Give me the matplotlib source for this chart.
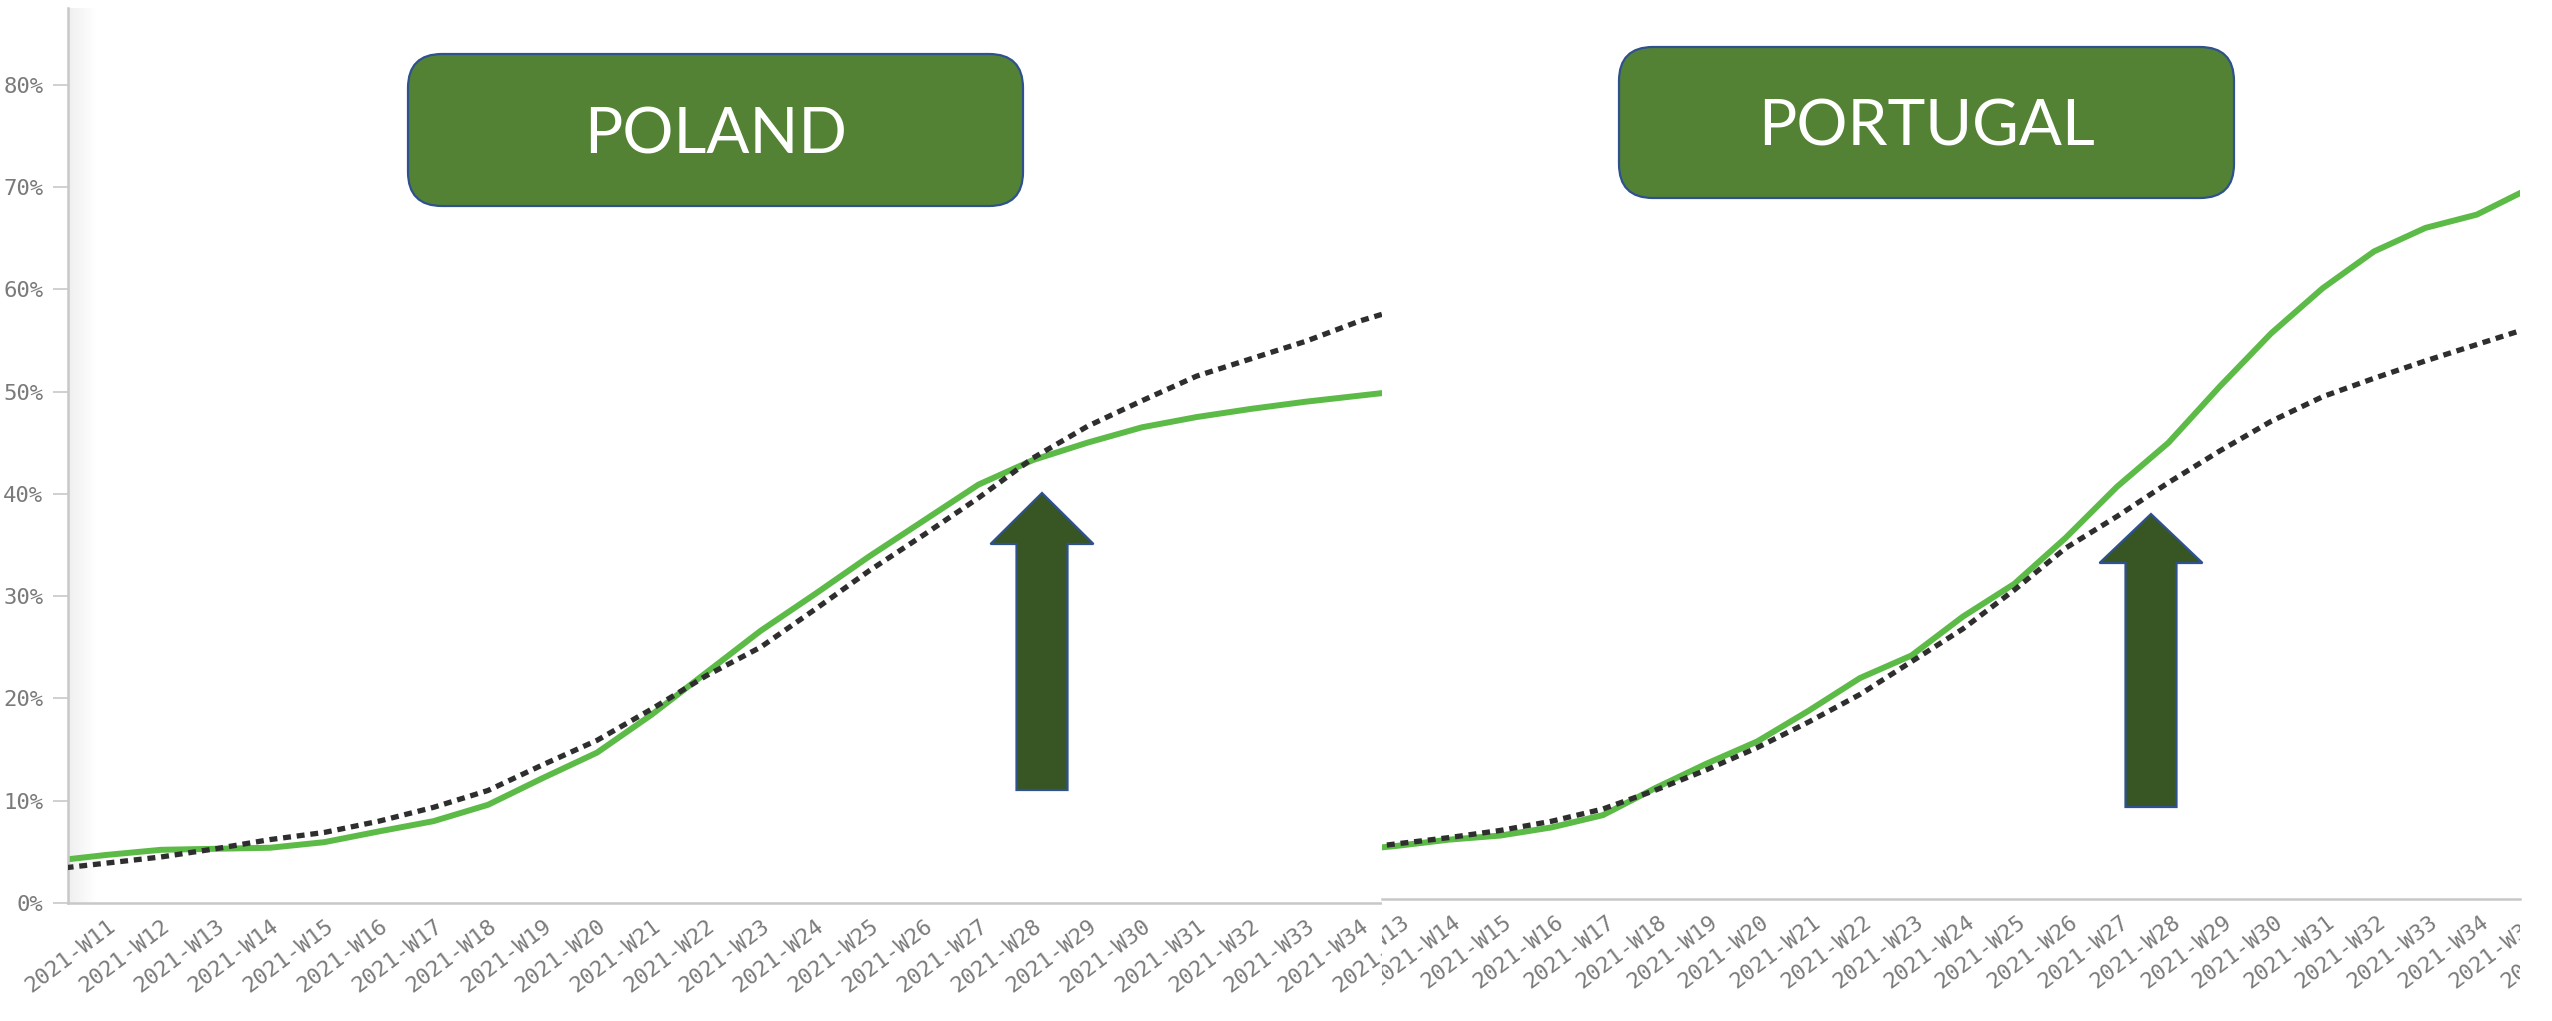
import numpy as np
import matplotlib.pyplot as plt
from matplotlib.colors import LinearSegmentedColormap
from matplotlib.patches import FancyBboxPatch, Polygon, Rectangle
from matplotlib.ticker import FuncFormatter
from matplotlib.transforms import Bbox, ScaledTranslation, TransformedBbox

W, H, DPI = 2552, 1021, 100

# cumulative share of population vaccinated (%), country vs. trend line
pl_weeks = list(range(11, 37))
pl_actual = [4.1, 4.7, 5.2, 5.3, 5.4, 5.95, 7.0, 8.0, 9.6, 12.2, 14.7, 18.4, 22.5,
             26.6, 30.2, 33.9, 37.4, 40.9, 43.3, 45.0, 46.5, 47.5, 48.3, 49.0, 49.6, 50.2]
pl_trend = [3.3, 3.9, 4.5, 5.3, 6.2, 6.9, 8.0, 9.35, 11.0, 13.5, 15.9, 18.95, 22.2,
            25.0, 28.7, 32.5, 36.0, 39.6, 43.5, 46.6, 49.1, 51.5, 53.2, 54.9, 56.9, 58.5]

pt_weeks = list(range(13, 37))
pt_actual = [4.7, 5.2, 5.8, 6.2, 7.0, 8.2, 10.8, 13.2, 15.4, 18.4, 21.6, 23.8,
             27.6, 30.8, 35.3, 40.3, 44.6, 50.1, 55.3, 59.7, 63.3, 65.6, 66.9, 69.4]
pt_trend = [4.8, 5.4, 6.0, 6.7, 7.6, 8.8, 10.6, 12.6, 14.8, 17.3, 20.0, 23.2,
            26.4, 30.2, 34.3, 37.4, 40.7, 43.8, 46.7, 49.1, 50.9, 52.6, 54.2, 55.8]

y_ticks = [0, 10, 20, 30, 40, 50, 60, 70, 80]
countries = ['POLAND', 'PORTUGAL']

GREEN = '#5cba47'
DASH = '#2e2e2e'
AXIS_GREY = '#c8c8c8'
LABEL_GREY = '#7a7a7a'
MONO = 'DejaVu Sans Mono'
TICK_FS = 16


def px_rect(x0, y0, x1, y1):
  # pixel box (origin top-left) -> figure fraction [l, b, w, h]
  return [x0 / W, 1 - y1 / H, (x1 - x0) / W, (y1 - y0) / H]


def week_labels(ax, weeks, clip=None):
  off = ScaledTranslation(18 / DPI, -53 / DPI, ax.figure.dpi_scale_trans)
  tr = ax.get_xaxis_transform() + off
  for w in weeks:
    t = ax.text(w, 0, '2021-W%d' % w, transform=tr, rotation=37,
                rotation_mode='anchor', ha='center', va='center',
                family=MONO, fontsize=TICK_FS, color=LABEL_GREY)
    if clip is not None:
      t.set_clip_path(None)
      t.set_clip_box(clip)
      t.set_clip_on(True)


def draw_lines(ax, weeks, actual, trend):
  ax.plot(weeks, actual, color=GREEN, lw=4.3, solid_capstyle='butt', zorder=2)
  ax.plot(weeks, trend, color=DASH, lw=3.8, dashes=(1.5, 1.1), zorder=3)


fig = plt.figure(figsize=(W / DPI, H / DPI), dpi=DPI)

# left panel
ax1 = fig.add_axes(px_rect(68, 8, 1382, 903))
ax1.set_zorder(0)
draw_lines(ax1, pl_weeks, pl_actual, pl_trend)
ax1.set_xlim(11 + 16 / 54.5, 11 + 1330 / 54.5)
ax1.set_ylim(0, 895 / 10.23)
# faint shading along the value axis
shade = LinearSegmentedColormap.from_list('shade', ['#efefef', '#ffffff'])
ax1.imshow(np.linspace(0, 1, 64)[None, :], cmap=shade, aspect='auto',
           extent=[0, 28 / 1314, 0, 1], transform=ax1.transAxes, zorder=0.5)
ax1.set_xlim(11 + 16 / 54.5, 11 + 1330 / 54.5)
ax1.set_ylim(0, 895 / 10.23)
ax1.set_xticks([])
ax1.set_yticks(y_ticks)
ax1.yaxis.set_major_formatter(FuncFormatter(lambda v, p: '%d%%' % v))
ax1.tick_params(axis='y', length=10.8, width=1.2, color=AXIS_GREY, pad=7,
                labelsize=TICK_FS, labelcolor=LABEL_GREY)
for lab in ax1.get_yticklabels():
  lab.set_family(MONO)
for s in ['top', 'right']:
  ax1.spines[s].set_visible(False)
for s in ['left', 'bottom']:
  ax1.spines[s].set_color(AXIS_GREY)
  ax1.spines[s].set_linewidth(1.8)
week_labels(ax1, pl_weeks)

# right panel sits on top of the left one
fig.add_artist(Rectangle((1382 / W, 0), 1, 1, transform=fig.transFigure,
                         facecolor='white', edgecolor='none', zorder=1))

ax2 = fig.add_axes(px_rect(1382, 8, 2520, 899))
ax2.set_zorder(2)
draw_lines(ax2, pt_weeks, pt_actual, pt_trend)
ax2.set_xlim(13 + 36 / 51.4, 13 + 1174 / 51.4)
ax2.set_ylim(0, 891 / 10.23)
ax2.set_xticks([])
ax2.set_yticks([])
for s in ['top', 'right', 'left']:
  ax2.spines[s].set_visible(False)
ax2.spines['bottom'].set_color(AXIS_GREY)
ax2.spines['bottom'].set_linewidth(1.8)
clip = TransformedBbox(Bbox([[1382 / W, 0], [2520 / W, 1]]), fig.transFigure)
week_labels(ax2, pt_weeks, clip=clip)

# overlay in pixel coordinates for the title boxes and arrows
ov = fig.add_axes([0, 0, 1, 1])
ov.set_zorder(5)
ov.set_xlim(0, W)
ov.set_ylim(H, 0)
ov.axis('off')
ov.patch.set_visible(False)

boxes = [(408, 54, 1023, 206, 154), (1619, 47, 2234, 198, 146)]
for (x0, y0, x1, y1, base), name in zip(boxes, countries):
  ov.add_patch(FancyBboxPatch((x0, y0), x1 - x0, y1 - y0,
                              boxstyle='round,pad=0,rounding_size=34',
                              facecolor='#548235', edgecolor='#2f528f', lw=1.6))
  ov.text((x0 + x1) / 2, base, name, ha='center', va='baseline',
          color='white', fontsize=46, family='Lato')

arrows = [(1042, 493, 544, 790, 51, 103), (2151, 514, 563, 807, 51, 103)]
for cx, tip, neck, bottom, shaft, head in arrows:
  pts = [(cx, tip), (cx + head / 2, neck), (cx + shaft / 2, neck),
         (cx + shaft / 2, bottom), (cx - shaft / 2, bottom),
         (cx - shaft / 2, neck), (cx - head / 2, neck)]
  ov.add_patch(Polygon(pts, closed=True, facecolor='#375623',
                       edgecolor='#2f528f', lw=1.6))

fig.savefig('out.png', dpi=DPI, facecolor='white')
